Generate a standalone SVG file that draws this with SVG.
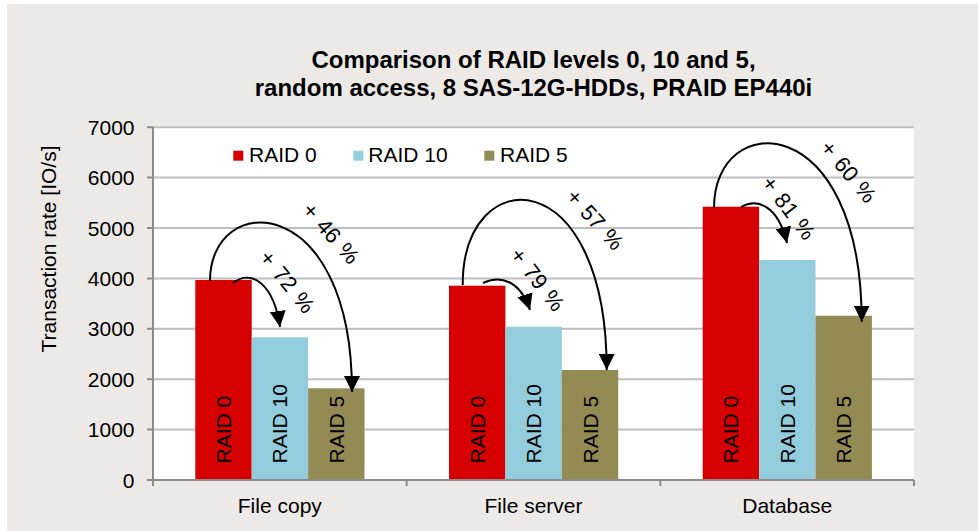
<svg xmlns="http://www.w3.org/2000/svg" width="978" height="531" viewBox="0 0 978 531">
<style>
text{font-family:"Liberation Sans",Arial,sans-serif;fill:#000}
.t{font-size:21px}
.title{font-size:24px;font-weight:bold}
.grid{stroke:#BEBEBE;stroke-width:2}
.axis{stroke:#8C8C8C;stroke-width:2;fill:none}
.r0{fill:#D60000}
.r10{fill:#93CDDD}
.r5{fill:#948A54}
.arc{fill:none;stroke:#000;stroke-width:2}
.pct{font-size:22px;word-spacing:2px}
</style>
<defs>
<marker id="ah" viewBox="0 0 16 16" refX="16" refY="8" markerWidth="16" markerHeight="16" markerUnits="userSpaceOnUse" orient="auto">
<path d="M0,0 L16,8 L0,16 z" fill="#000"/>
</marker>
</defs>
<rect x="0" y="0" width="978" height="531" fill="#FFFFFF"/>
<rect x="7" y="4" width="971" height="527" fill="#ECE9E6"/>
<g id="title">
<text class="title" x="533.5" y="68" text-anchor="middle">Comparison of RAID levels 0, 10 and 5,</text>
<text class="title" x="533.5" y="96" text-anchor="middle">random access, 8 SAS-12G-HDDs, PRAID EP440i</text>
</g>
<g id="plot">
<rect x="153" y="127" width="761" height="353" fill="#FFFFFF"/>
<g class="grid">
<line x1="153" y1="127.2" x2="914" y2="127.2"/>
<line x1="153" y1="177.6" x2="914" y2="177.6"/>
<line x1="153" y1="228" x2="914" y2="228"/>
<line x1="153" y1="278.4" x2="914" y2="278.4"/>
<line x1="153" y1="328.8" x2="914" y2="328.8"/>
<line x1="153" y1="379.2" x2="914" y2="379.2"/>
<line x1="153" y1="429.6" x2="914" y2="429.6"/>
</g>
</g>
<g id="bars">
<g id="filecopy">
<rect class="r0" x="195.3" y="280" width="56.4" height="200"/>
<rect class="r10" x="251.7" y="337.3" width="56.4" height="142.7"/>
<rect class="r5" x="308.1" y="388.3" width="56.4" height="91.7"/>
</g>
<g id="fileserver">
<rect class="r0" x="449" y="285.7" width="56.4" height="194.3"/>
<rect class="r10" x="505.4" y="326.7" width="56.4" height="153.3"/>
<rect class="r5" x="561.8" y="370" width="56.4" height="110"/>
</g>
<g id="database">
<rect class="r0" x="702.7" y="206.7" width="56.4" height="273.3"/>
<rect class="r10" x="759.1" y="260" width="56.4" height="220"/>
<rect class="r5" x="815.5" y="315.7" width="56.4" height="164.3"/>
</g>
</g>
<g id="barlabels" class="t">
<text class="t" transform="translate(231,463.5) rotate(-90)">RAID 0</text>
<text class="t" transform="translate(287.4,463.5) rotate(-90)">RAID 10</text>
<text class="t" transform="translate(343.8,463.5) rotate(-90)">RAID 5</text>
<text class="t" transform="translate(484.7,463.5) rotate(-90)">RAID 0</text>
<text class="t" transform="translate(541.1,463.5) rotate(-90)">RAID 10</text>
<text class="t" transform="translate(597.5,463.5) rotate(-90)">RAID 5</text>
<text class="t" transform="translate(738.4,463.5) rotate(-90)">RAID 0</text>
<text class="t" transform="translate(794.8,463.5) rotate(-90)">RAID 10</text>
<text class="t" transform="translate(851.2,463.5) rotate(-90)">RAID 5</text>
</g>
<g id="axes">
<path class="axis" d="M153,127 V480 H914"/>
<path class="axis" d="M147,127.2 H153 M147,177.6 H153 M147,228 H153 M147,278.4 H153 M147,328.8 H153 M147,379.2 H153 M147,429.6 H153 M147,480 H153"/>
<path class="axis" d="M153,480 V486 M406.7,480 V486 M660.3,480 V486 M914,480 V486"/>
</g>
<g id="ylabels">
<text class="t" x="134.5" y="134.7" text-anchor="end">7000</text>
<text class="t" x="134.5" y="185.1" text-anchor="end">6000</text>
<text class="t" x="134.5" y="235.5" text-anchor="end">5000</text>
<text class="t" x="134.5" y="285.9" text-anchor="end">4000</text>
<text class="t" x="134.5" y="336.3" text-anchor="end">3000</text>
<text class="t" x="134.5" y="386.7" text-anchor="end">2000</text>
<text class="t" x="134.5" y="437.1" text-anchor="end">1000</text>
<text class="t" x="134.5" y="487.5" text-anchor="end">0</text>
<text class="t" transform="translate(56,249) rotate(-90)" text-anchor="middle">Transaction rate [IO/s]</text>
</g>
<g id="xlabels">
<text class="t" x="279.8" y="513" text-anchor="middle">File copy</text>
<text class="t" x="533.5" y="513" text-anchor="middle">File server</text>
<text class="t" x="787.2" y="513" text-anchor="middle">Database</text>
</g>
<g id="legend">
<rect class="r0" x="233.3" y="150.7" width="10" height="10"/>
<text class="t" x="249" y="161.7">RAID 0</text>
<rect class="r10" x="353.3" y="150.7" width="10" height="10"/>
<text class="t" x="368.3" y="161.7">RAID 10</text>
<rect class="r5" x="484.3" y="150.7" width="10" height="10"/>
<text class="t" x="500" y="161.7">RAID 5</text>
</g>
<g id="connectors">
<path class="arc" marker-end="url(#ah)" d="M210,281 C210,190 352,190 352,392"/>
<path class="arc" marker-end="url(#ah)" d="M233,283 C252,268 274,285 280,327"/>
<path class="arc" marker-end="url(#ah)" d="M462.7,285 C462.7,160 606.7,160 606.7,370"/>
<path class="arc" marker-end="url(#ah)" d="M483,283 C500,275 520,280 530,310"/>
<path class="arc" marker-end="url(#ah)" d="M714,208 C714,108 861.7,108 861.7,321.7"/>
<path class="arc" marker-end="url(#ah)" d="M741,207 C757,198 778,205 787,243"/>
</g>
<g id="arrowlabels">
<text class="pct" text-anchor="middle" dominant-baseline="central" transform="translate(287.2,281.7) rotate(51)">+ 72 %</text>
<text class="pct" text-anchor="middle" dominant-baseline="central" transform="translate(330.9,233.4) rotate(48.5)">+ 46 %</text>
<text class="pct" text-anchor="middle" dominant-baseline="central" transform="translate(537.5,279.5) rotate(52)">+ 79 %</text>
<text class="pct" text-anchor="middle" dominant-baseline="central" transform="translate(595,219.7) rotate(48)">+ 57 %</text>
<text class="pct" text-anchor="middle" dominant-baseline="central" transform="translate(788.4,208) rotate(53)">+ 81 %</text>
<text class="pct" text-anchor="middle" dominant-baseline="central" transform="translate(848.4,171.7) rotate(50)">+ 60 %</text>
</g>
</svg>
